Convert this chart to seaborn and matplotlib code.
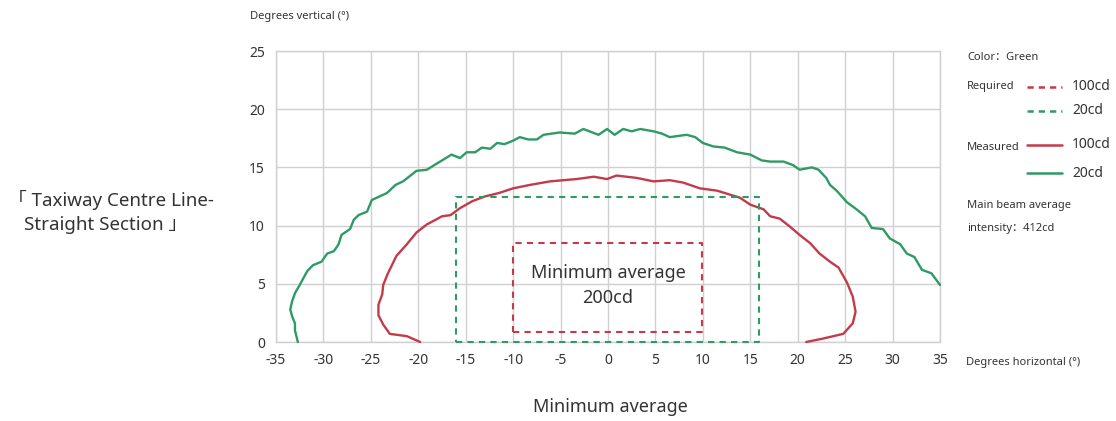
import numpy as np
import pandas as pd
import matplotlib.pyplot as plt
import seaborn as sns

sns.set_style("whitegrid")
plt.rcParams['font.family'] = ['Noto Sans', 'Noto Sans CJK SC', 'DejaVu Sans']

GREEN = "#2e9a66"
RED = "#c33b4a"

# measured 20cd contour (green)
meas_20_x = [-32.7, -33.0, -33.0, -33.3, -33.5, -33.3, -33.0, -32.5, -31.7, -31.1, -30.2, -29.6,
             -28.9, -28.4, -28.1, -27.2, -26.8, -26.3, -25.4, -24.9, -23.3, -22.4, -21.6, -20.2,
             -19.1, -18.1, -16.5, -15.6, -14.9, -14.0, -13.3, -12.4, -11.7, -10.9, -10.0, -9.3,
             -8.4, -7.5, -6.8, -5.1, -3.5, -2.6, -1.0, -0.1, 0.7, 1.6, 2.5, 3.4, 4.8, 5.7, 6.5,
             7.4, 8.3, 9.2, 10.0, 11.1, 12.3, 13.6, 15.0, 16.2, 17.1, 18.5, 19.5, 20.2, 21.5,
             22.2, 23.0, 23.4, 24.1, 25.2, 26.2, 27.1, 27.8, 29.0, 29.7, 30.8, 31.5, 32.3, 33.1,
             34.1, 35.0]
meas_20_y = [0.0, 1.0, 1.6, 2.2, 2.8, 3.5, 4.2, 4.9, 6.1, 6.6, 6.9, 7.6,
             7.8, 8.4, 9.2, 9.7, 10.5, 10.9, 11.2, 12.2, 12.8, 13.5, 13.8, 14.7,
             14.8, 15.3, 16.1, 15.8, 16.3, 16.3, 16.7, 16.6, 17.1, 17.0, 17.3, 17.6,
             17.4, 17.4, 17.8, 18.0, 17.9, 18.3, 17.8, 18.3, 17.8, 18.3, 18.1, 18.3, 18.1, 17.9, 17.6,
             17.7, 17.8, 17.6, 17.1, 16.8, 16.7, 16.3, 16.1, 15.6, 15.5, 15.5, 15.2, 14.8, 15.0,
             14.8, 14.1, 13.5, 13.0, 12.0, 11.4, 10.8, 9.8, 9.7, 8.9, 8.4, 7.6, 7.3, 6.2,
             5.9, 4.9]

# measured 100cd contour (red)
meas_100_x = [-19.8, -21.2, -23.0, -23.7, -24.2, -24.2, -23.8, -23.7, -23.2, -22.3, -21.2, -20.2,
              -19.1, -18.4, -17.5, -16.6, -15.6, -14.3, -13.0, -11.5, -10.0, -8.2, -6.1, -3.3,
              -1.5, -0.1, 0.9, 3.0, 4.8, 6.5, 7.9, 9.7, 11.5, 13.9, 15.0, 16.4, 17.1, 18.1, 19.2,
              20.2, 21.3, 22.3, 23.4, 24.3, 25.2, 25.8, 26.1, 25.8, 24.8, 22.7, 20.9]
meas_100_y = [0.0, 0.5, 0.7, 1.5, 2.3, 3.2, 4.1, 4.9, 5.9, 7.4, 8.4, 9.4,
              10.1, 10.4, 10.8, 10.9, 11.5, 12.1, 12.5, 12.8, 13.2, 13.5, 13.8, 14.0,
              14.2, 14.0, 14.3, 14.1, 13.8, 13.9, 13.7, 13.2, 13.0, 12.4, 11.8, 11.4, 10.8, 10.6, 9.9,
              9.2, 8.5, 7.6, 6.9, 6.4, 5.1, 3.9, 2.6, 1.6, 0.7, 0.3, 0.0]

# required boxes: (x_left, x_right, y_bottom, y_top)
req_20_box = [-16.0, 15.9, 0.0, 12.5]
req_100_box = [-10.0, 9.9, 0.85, 8.5]

x_ticks = [-35, -30, -25, -20, -15, -10, -5, 0, 5, 10, 15, 20, 25, 30, 35]
y_ticks = [0, 5, 10, 15, 20, 25]


def box_df(box):
    x0, x1, y0, y1 = box
    return pd.DataFrame({"x": [x0, x1, x1, x0, x0], "y": [y0, y0, y1, y1, y0]})


W, H = 1116, 421
fig = plt.figure(figsize=(W / 100, H / 100), dpi=100)
ax = fig.add_axes([276 / W, 1 - 342 / H, (940 - 276) / W, (342 - 51) / H])

sns.lineplot(x=meas_20_x, y=meas_20_y, sort=False, estimator=None, color=GREEN, lw=1.7,
             ax=ax, clip_on=False, zorder=4)
sns.lineplot(x=meas_100_x, y=meas_100_y, sort=False, estimator=None, color=RED, lw=1.7,
             ax=ax, clip_on=False, zorder=4)
b20 = box_df(req_20_box)
b100 = box_df(req_100_box)
sns.lineplot(data=b20, x="x", y="y", sort=False, estimator=None, color=GREEN, lw=1.5,
             linestyle=(0, (3, 2.5)), ax=ax, clip_on=False, zorder=4)
sns.lineplot(data=b100, x="x", y="y", sort=False, estimator=None, color=RED, lw=1.5,
             linestyle=(0, (3, 2.5)), ax=ax, clip_on=False, zorder=4)

ax.text(0, 5.9, "Minimum average", ha="center", va="center", fontsize=13, color="#333333")
ax.text(0, 3.8, "200cd", ha="center", va="center", fontsize=13, color="#333333")

ax.set_xlim(-35, 35)
ax.set_ylim(0, 25)
ax.set_xticks(x_ticks)
ax.set_yticks(y_ticks)
ax.set_xticklabels([str(t) for t in x_ticks])
ax.set_yticklabels([str(t) for t in y_ticks])
ax.tick_params(axis="both", labelsize=10, colors="#333333", length=0, pad=8)
ax.grid(True, color="#d0d0d0", lw=1)
for s in ax.spines.values():
    s.set_color("#d0d0d0")
    s.set_linewidth(1)
ax.set_xlabel("")
ax.set_ylabel("")

fam = ['Noto Sans', 'Noto Sans CJK SC', 'DejaVu Sans']


def ftext(px, py, s, **kw):
    fig.text(px / W, 1 - py / H, s, family=fam, color="#333333", **kw)


ftext(250, 17, "Degrees vertical (°)", fontsize=8, va="center")
ftext(966, 362, "Degrees horizontal (°)", fontsize=8, va="center")
ftext(610, 407, "Minimum average", fontsize=13, ha="center", va="center")
ftext(8, 200, "「 Taxiway Centre Line-", fontsize=13.5, va="center")
ftext(24, 225, "Straight Section 」", fontsize=13.5, va="center")

# legend block on the right
ftext(967, 58, "Color：Green", fontsize=8, va="center")
ftext(967, 87, "Required", fontsize=8, va="center")
ftext(1072, 86, "100cd", fontsize=10, va="center")
ftext(1072, 111, "20cd", fontsize=10, va="center")
ftext(967, 148, "Measured", fontsize=8, va="center")
ftext(1072, 145, "100cd", fontsize=10, va="center")
ftext(1072, 173, "20cd", fontsize=10, va="center")
ftext(967, 205, "Main beam average", fontsize=8, va="center")
ftext(967, 228, "intensity：412cd", fontsize=8, va="center")

for y, c, ls in [(87, RED, (0, (2.5, 2))), (111, GREEN, (0, (2.5, 2))),
                 (145, RED, "-"), (173, GREEN, "-")]:
    fig.lines.append(plt.Line2D([1027 / W, 1062 / W], [1 - y / H, 1 - y / H],
                                transform=fig.transFigure, color=c, lw=1.8, linestyle=ls))

fig.savefig("out.png", dpi=100, facecolor="white")
